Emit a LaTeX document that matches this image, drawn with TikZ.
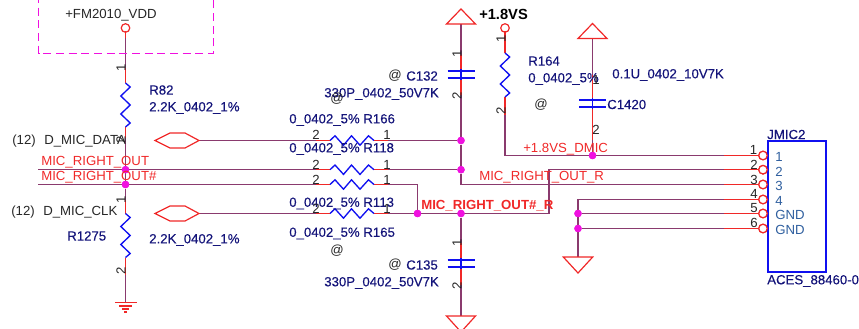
\documentclass[tikz,border=0pt]{standalone}
\usepackage{fontspec}
\setmainfont{Liberation Sans}
\newfontfamily\heavyfont[RawFeature={embolden=0.35}]{Liberation Sans}
\definecolor{wire}{HTML}{8A3A6E}
\definecolor{stub}{HTML}{F02828}
\definecolor{lbl}{HTML}{14147A}
\definecolor{zig}{HTML}{1010F0}
\definecolor{pinlbl}{HTML}{2F5F9F}
\definecolor{dotc}{HTML}{F010E0}
\tikzset{
  wireline/.style={draw=wire,line width=1pt},
  stubline/.style={draw=stub,line width=1pt},
  zigline/.style={draw=zig,line width=1pt,line join=miter},
  sym/.style={draw=stub,line width=0.9pt,line join=miter},
  junction/.style={circle,fill=dotc,inner sep=0pt,minimum size=5.6pt},
  pinring/.style={circle,draw=stub,line width=0.9pt,fill=white,inner sep=0pt,minimum size=6.4pt},
  txt/.style={inner sep=0pt,anchor=west,font=\fontsize{9.9}{11}\selectfont},
  lab/.style={txt,text=lbl,font=\fontsize{9.9}{11}\selectfont\heavyfont},
  redlab/.style={txt,text=stub},
  blk/.style={txt,text=black!85},
  num/.style={inner sep=0pt,text=black!85,font=\fontsize{9.9}{11}\selectfont},
  rnum/.style={num,rotate=90},
  pinlab/.style={txt,text=pinlbl},
  platec/.style={draw=zig,line width=1.1pt},
  hres/.pic={\draw[zigline] (0,0)--(5,-4.7)--(13.5,4.7)--(21.5,-4.7)--(30,4.7)--(38.5,-4.7)--(44,0);},
  vres/.pic={\draw[zigline] (0,0)--(4.7,4)--(-4.7,13)--(4.7,22)--(-4.7,31)--(4.7,40)--(0,44);},
  hexport/.pic={\draw[sym] (-22,0)--(-7,-7.5)--(8,-7.5)--(22,0)--(8,7.5)--(-7,7.5)--cycle;},
  caps/.pic={\draw[platec] (-13.5,0)--(13.5,0);\draw[platec] (-13.5,7)--(13.5,7);\draw[draw=zig,line width=0.8pt] (0,-2)--(0,9);},
}
\begin{document}
\begin{tikzpicture}[x=0.75pt,y=-0.75pt]
\useasboundingbox (0,0) rectangle (859,328);
\clip (0,0) rectangle (859,328);
% coordinates
\coordinate (lA) at (38,169.7);
\coordinate (lB) at (38,184.5);
\node[pinring] (vdd) at (125.5,28) {};
\node[pinring] (v18) at (505,28) {};
\coordinate (r82t) at (125.5,83); \coordinate (r82b) at (125.5,127);
\coordinate (r1275t) at (125.5,213.5); \coordinate (r1275b) at (125.5,257.5);
\coordinate (gndL) at (125.5,302.5);
\coordinate (r164t) at (505,53); \coordinate (r164b) at (505,97);
\coordinate (r164c) at (505,155.5);
\coordinate (c132t) at (461,71); \coordinate (c132b) at (461,78);
\coordinate (c135t) at (461,260); \coordinate (c135b) at (461,267);
\coordinate (c1420t) at (592.5,100); \coordinate (c1420b) at (592.5,107);
\coordinate (topA) at (461,24); \coordinate (topB) at (592.5,38.5);
\coordinate (botA) at (461,316); \coordinate (botB) at (578,257);
\coordinate (hexAt) at (199,140.5); \coordinate (hexBt) at (199,213.5);
\coordinate (r166l) at (330,140.5); \coordinate (r166r) at (374,140.5);
\coordinate (r118l) at (330,169.7); \coordinate (r118r) at (374,169.7);
\coordinate (r113l) at (330,184.5); \coordinate (r113r) at (374,184.5);
\coordinate (r165l) at (330,213.5); \coordinate (r165r) at (374,213.5);
\coordinate (k1) at (417.5,184.5);
\coordinate (k2) at (549,213.5);
\coordinate (k3) at (549,169.7);
\coordinate (k4) at (461,184.5);
\coordinate (k5) at (578,199.5);
\node[junction] (j1) at (461,140.5) {};
\node[junction] (j2) at (461,169.7) {};
\node[junction] (j3) at (461,213.5) {};
\node[junction] (j4) at (417.5,213.5) {};
\node[junction] (j5) at (592.5,155.5) {};
\node[junction] (j6) at (578,213.5) {};
\node[junction] (j7) at (578,228.5) {};
\node[junction] (j8) at (125.5,169.7) {};
\node[junction] (j9) at (125.5,184.5) {};
\node[pinring] (p1) at (763,155.5) {};
\node[pinring] (p2) at (763,169.7) {};
\node[pinring] (p3) at (763,184.5) {};
\node[pinring] (p4) at (763,199.5) {};
\node[pinring] (p5) at (763,213.5) {};
\node[pinring] (p6) at (763,228.5) {};
% wires
\draw[wireline] (vdd)--(r82t) (r82b)--(j9) (j9)--(r1275t) (r1275b)--(gndL);
\draw[wireline] (lA)--(r118l) (r118r)--(j2) (lB)--(r113l) (r113r)--(k1)--(j4) (j4)--(k2)--(k3)--(p2);
\draw[wireline] (hexAt)--(r166l) (r166r)--(j1) (hexBt)--(r165l) (r165r)--(j3);
\draw[wireline] (topA)--(c132t) (c132b)--(j1)--(j2)--(k4)--(p3);
\draw[wireline] (j3)--(c135t) (c135b)--(botA);
\draw[wireline] (v18)--(r164t) (r164b)--(r164c)--(p1);
\draw[wireline] (topB)--(c1420t) (c1420b)--(j5);
\draw[wireline] (p4)--(k5)--(botB) (j6)--(p5) (j7)--(p6);
% red stubs
\draw[stubline] (125.5,31)--(125.5,38) (125.5,68)--(r82t) (r82b)--(125.5,138) (125.5,200)--(r1275t) (r1275b)--(125.5,275);
\foreach \y in {140.5,169.7,184.5,213.5}{\draw[stubline] (316,\y)--(330,\y) (374,\y)--(388,\y);}
\draw[stubline] (461,55)--(c132t) (c132b)--(461,95) (461,243)--(c135t) (c135b)--(461,285);
\draw[stubline] (505,31)--(r164t) (r164b)--(505,115);
\draw[stubline] (592.5,75)--(c1420t) (c1420b)--(592.5,140);
\foreach \n/\y in {p1/155.5,p2/169.7,p3/184.5,p4/199.5,p5/213.5,p6/228.5}{\draw[stubline] (724,\y)--(\n);}
% symbols
\pic at (r82t) {vres}; \pic at (r1275t) {vres}; \pic at (r164t) {vres};
\pic at (r166l) {hres}; \pic at (r118l) {hres}; \pic at (r113l) {hres}; \pic at (r165l) {hres};
\pic at (c132t) {caps}; \pic at (c135t) {caps}; \pic at (c1420t) {caps};
\pic at (177,140.5) {hexport}; \pic at (177,213.5) {hexport};
\draw[sym] (topA) ++(-14.5,0)--(461,9)--(475.5,24)--cycle;
\draw[sym] (topB) ++(-14.5,0)--(592.5,23.5)--(607,38.5)--cycle;
\draw[sym] (botA) ++(-14.5,0)--(461,332)--(475.5,316)--cycle;
\draw[sym] (botB) ++(-14.7,0)--(578,273)--(592.7,257)--cycle;
\draw[sym] (115,302.5)--(136.5,302.5) (119,306)--(132,306) (122,309)--(129,309) (124,312)--(127,312);
% magenta box
\draw[draw=dotc,line width=0.8pt,dash pattern=on 6pt off 3.5pt] (38.5,-5)--(38.5,53.5)--(213.5,53.5)--(213.5,-5);
% connector box
\draw[draw=zig,line width=1.3pt,fill=white] (768,141) rectangle (826,272);
\foreach \n in {p1,p2,p3,p4,p5,p6}{\node[pinring] at (\n) {};}
\foreach \n in {j1,j2,j3,j4,j5,j6,j7,j8,j9}{\node[junction] at (\n) {};}
% text
\node[blk] at (65,15) {+FM2010\_VDD};
\node[rnum] at (121,68) {1};
\node[lab] at (149,90) {R82};
\node[lab] at (149,108) {2.2K\_0402\_1\%};
\node[blk] at (12,141) {(12)};
\node[blk] at (44,141) {D\_MIC\_DATA};
\node[rnum] at (121,140) {2};
\node[redlab] at (41,162.5) {MIC\_RIGHT\_OUT};
\node[redlab] at (41,177.5) {MIC\_RIGHT\_OUT\#};
\node[rnum] at (121,200) {1};
\node[blk] at (11,212) {(12)};
\node[blk] at (43,212) {D\_MIC\_CLK};
\node[lab] at (67,236) {R1275};
\node[lab] at (149,240) {2.2K\_0402\_1\%};
\node[rnum] at (121,271) {2};
\node[blk] at (388,76) {@};
\node[lab] at (406,76) {C132};
\node[lab] at (324,94) {330P\_0402\_50V7K};
\node[blk] at (330,99) {@};
\node[rnum] at (457,54) {1};
\node[rnum] at (457,96) {2};
\node[lab] at (289,120) {0\_0402\_5\% R166};
\node[num] at (316,135) {2}; \node[num] at (387,135) {1};
\node[lab] at (289,149) {0\_0402\_5\% R118};
\node[num] at (316,165) {2}; \node[num] at (387,165) {1};
\node[num] at (316,179.5) {2}; \node[num] at (387,179.5) {1};
\node[lab] at (289,203.5) {0\_0402\_5\% R113};
\node[num] at (316,209) {2}; \node[num] at (387,209) {1};
\node[lab] at (289,233.5) {0\_0402\_5\% R165};
\node[blk] at (330,250.5) {@};
\node[blk] at (388,265) {@};
\node[lab] at (406,265) {C135};
\node[lab] at (324,283) {330P\_0402\_50V7K};
\node[rnum] at (457,243) {1};
\node[rnum] at (457,286) {2};
\node[redlab] at (479,177) {MIC\_RIGHT\_OUT\_R};
\node[redlab,font=\fontsize{9.9}{11}\selectfont\bfseries] at (421,206) {MIC\_RIGHT\_OUT\#\_R};
\node[txt,text=black,font=\fontsize{11}{12}\selectfont\bfseries] at (479,14) {+1.8VS};
\node[lab] at (528,61) {R164};
\node[lab] at (528,79) {0\_0402\_5\%};
\node[blk] at (534,105) {@};
\node[rnum] at (501,39) {1};
\node[rnum] at (501,111) {2};
\node[lab] at (612,75) {0.1U\_0402\_10V7K};
\node[lab] at (607,104.5) {C1420};
\node[num] at (596,79.5) {1};
\node[num] at (596,130) {2};
\node[redlab] at (523,149) {+1.8VS\_DMIC};
\node[num] at (753.5,150) {1};
\node[num] at (754,165) {2};
\node[num] at (754,179.5) {3};
\node[num] at (754,194) {4};
\node[num] at (754,208.5) {5};
\node[num] at (754,223) {6};
\node[pinlab] at (775,157) {1};
\node[pinlab] at (775,171.5) {2};
\node[pinlab] at (775,186) {3};
\node[pinlab] at (775,200.5) {4};
\node[pinlab] at (775,215) {GND};
\node[pinlab] at (775,230) {GND};
\node[lab] at (767,134.5) {JMIC2};
\node[lab] at (767,281) {ACES\_88460-0};
\end{tikzpicture}
\end{document}
